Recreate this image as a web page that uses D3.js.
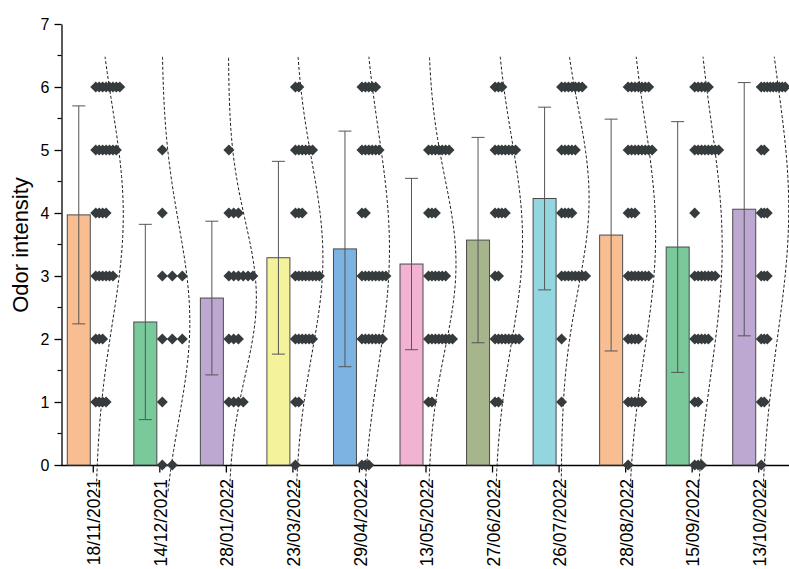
<!DOCTYPE html>
<html>
<head>
<meta charset="utf-8">
<script src="https://cdn.jsdelivr.net/npm/d3@7"></script>
<style>
  body { margin: 0; background: #fff; }
  svg { font-family: 'Liberation Sans', Arial, sans-serif; }
</style>
</head>
<body>
<svg id="chart" width="789" height="569"></svg>
<script>
// ================= data =========
var dates = ['18/11/2021', '14/12/2021', '28/01/2022', '23/03/2022', '29/04/2022', '13/05/2022',
  '27/06/2022', '26/07/2022', '28/08/2022', '15/09/2022', '13/10/2022']
var means = [3.97, 2.27, 2.65, 3.29, 3.43, 3.19, 3.57, 4.23, 3.65, 3.46, 4.06]
var sds = [1.73, 1.55, 1.22, 1.53, 1.87, 1.36, 1.63, 1.45, 1.84, 1.99, 2.01]
var scores = [0, 1, 2, 3, 4, 5, 6]
// number of panelists giving each score (0..6), one row per date
var counts = [
  [0, 4, 3, 6, 4, 7, 8],
  [2, 1, 3, 3, 1, 1, 0],
  [0, 4, 3, 6, 3, 1, 0],
  [1, 2, 6, 8, 3, 6, 2],
  [3, 0, 7, 8, 2, 6, 5],
  [0, 2, 8, 6, 3, 7, 0],
  [0, 2, 8, 2, 4, 7, 3],
  [0, 1, 1, 8, 4, 5, 7],
  [1, 5, 4, 7, 3, 8, 7],
  [3, 2, 5, 7, 1, 8, 5],
  [1, 2, 3, 3, 3, 2, 9]
]
var yTicks = [0, 1, 2, 3, 4, 5, 6, 7]
var colors = ['#f8be92', '#79c99b', '#bda8d2', '#f4f39c', '#7db3e3', '#f2b2d1',
  '#a7b58d', '#93d6e0', '#f8be92', '#79c99b', '#bda8d2']

var svg = d3.select('#chart')

// ========scales=====
var x = d3.scaleBand()
  .domain(dates)
  .range([60, 792])
var y = d3.scaleLinear()
  .domain([0, 7])
  .range([465, 24])

function tick (d) { return x(d) + x.bandwidth() / 2 }

// ====axes=====
var yAxis = d3.axisLeft(y)
  .tickValues(yTicks)
  .tickFormat(d3.format('d'))
  .tickSize(7)
  .tickSizeOuter(0)
  .tickPadding(5)
var gy = svg.append('g')
  .attr('transform', 'translate(61.5,0)')
  .call(yAxis)
gy.selectAll('text').attr('font-size', 16).attr('fill', '#000')
gy.selectAll('line, path').attr('stroke', '#000').attr('stroke-width', 1.3)
// minor ticks
gy.selectAll('.minor')
  .data(d3.range(0.5, 7, 1))
  .enter()
  .append('line')
  .attr('x1', -4)
  .attr('x2', 0)
  .attr('y1', function (d) { return y(d) })
  .attr('y2', function (d) { return y(d) })
  .attr('stroke', '#000')
  .attr('stroke-width', 1.2)

svg.append('text')
  .attr('transform', 'translate(28,245) rotate(-90)')
  .attr('text-anchor', 'middle')
  .attr('font-size', 22)
  .text('Odor intensity')

var xAxis = d3.axisBottom(x)
  .tickSize(7)
  .tickSizeOuter(0)
var gx = svg.append('g')
  .attr('transform', 'translate(0,465.5)')
  .call(xAxis)
gx.select('.domain').attr('d', 'M61,0H789')
gx.selectAll('line, path').attr('stroke', '#000').attr('stroke-width', 1.3)
gx.selectAll('text')
  .attr('font-size', 17.5)
  .attr('fill', '#000')
  .attr('text-anchor', 'end')
  .attr('dy', '0.35em')
  .attr('transform', 'translate(1,13.5) rotate(-90)')
  .attr('x', 0)
  .attr('y', 0)

// ====bars + error bars=====
var groups = svg.append('g')
  .selectAll('g')
  .data(dates)
  .enter()
  .append('g')

groups.append('rect')
  .attr('x', function (d) { return tick(d) - 26 })
  .attr('y', function (d, i) { return y(means[i]) })
  .attr('width', 23)
  .attr('height', function (d, i) { return y(0) - y(means[i]) })
  .attr('fill', function (d, i) { return colors[i] })
  .attr('stroke', '#4a4a4a')
  .attr('stroke-width', 1)

var errX = function (d) { return tick(d) - 14.5 }
groups.append('line')
  .attr('x1', errX)
  .attr('x2', errX)
  .attr('y1', function (d, i) { return y(means[i] - sds[i]) })
  .attr('y2', function (d, i) { return y(means[i] + sds[i]) })
  .attr('stroke', '#555')
groups.selectAll('.cap')
  .data(function (d, i) { return [[d, means[i] - sds[i]], [d, means[i] + sds[i]]] })
  .enter()
  .append('line')
  .attr('x1', function (c) { return errX(c[0]) - 6.5 })
  .attr('x2', function (c) { return errX(c[0]) + 6.5 })
  .attr('y1', function (c) { return y(c[1]) })
  .attr('y2', function (c) { return y(c[1]) })
  .attr('stroke', '#555')

// ====normal curves (dashed)=====
var curveYs = d3.range(-0.42, 6.5001, 0.05)
groups.append('path')
  .attr('d', function (d, i) {
    var line = d3.line()
      .x(function (v) {
        var z = (v - means[i]) / sds[i]
        return tick(d) + 2 + 28 * Math.exp(-z * z / 2)
      })
      .y(function (v) { return y(v) })
      .curve(d3.curveBasis)
    return line(curveYs)
  })
  .attr('fill', 'none')
  .attr('stroke', '#1a1a1a')
  .attr('stroke-width', 1)
  .attr('stroke-dasharray', '3,2')

// ====data points (diamonds)=====
var points = []
dates.forEach(function (d, i) {
  var maxCount = d3.max(counts[i])
  var step = Math.min(10, 24 / (maxCount - 1))
  scores.forEach(function (s, k) {
    for (var j = 0; j < counts[i][k]; j++) {
      points.push({ date: d, score: s, px: tick(d) + 2.5 + j * step })
    }
  })
})

svg.append('g')
  .selectAll('path')
  .data(points)
  .enter()
  .append('path')
  .attr('d', 'M0,-5.5L5.5,0L0,5.5L-5.5,0Z')
  .attr('transform', function (p) { return 'translate(' + [p.px, y(p.score)] + ')' })
  .attr('fill', '#363b3e')
</script>
</body>
</html>
